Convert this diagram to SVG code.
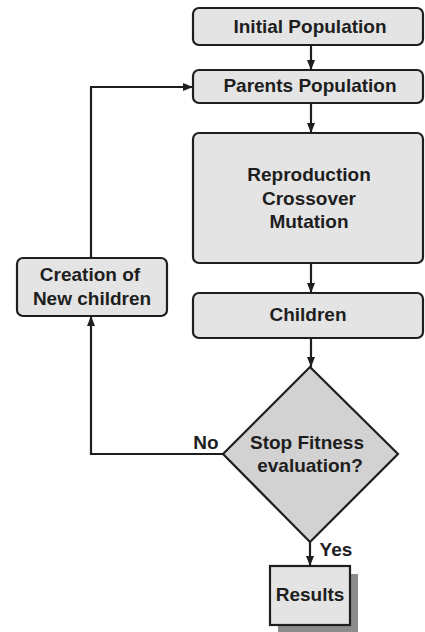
<svg xmlns="http://www.w3.org/2000/svg" width="425" height="632" viewBox="0 0 425 632">
  <style>
    .box { fill: #e4e4e4; stroke: #1e1e1e; stroke-width: 2.2; }
    .dia { fill: #d2d2d2; stroke: #1e1e1e; stroke-width: 2.2; }
    .lbl { font-family: "Liberation Sans", Arial, sans-serif; font-weight: bold; font-size: 19px; fill: #1e1e1e; text-anchor: middle; }
    .edge { fill: none; stroke: #1e1e1e; stroke-width: 2.2; marker-end: url(#arrow); }
  </style>
  <defs>
    <marker id="arrow" viewBox="0 0 10 10" refX="10" refY="5" markerWidth="10" markerHeight="10" markerUnits="userSpaceOnUse" orient="auto">
      <path d="M0,1 L10,5 L0,9 Z" fill="#1e1e1e"/>
    </marker>
  </defs>
  <rect width="425" height="632" fill="#ffffff"/>

  <g id="connectors">
    <line class="edge" x1="311" y1="45" x2="311" y2="70"/>
    <line class="edge" x1="311" y1="103" x2="311" y2="133"/>
    <line class="edge" x1="311" y1="263" x2="311" y2="293"/>
    <line class="edge" x1="311" y1="338" x2="311" y2="367"/>
    <line class="edge" x1="310" y1="542" x2="310" y2="566"/>
    <polyline class="edge" points="223,454 91,454 91,316"/>
    <polyline class="edge" points="91,258 91,87 193,87"/>
  </g>

  <g id="initial">
    <rect class="box" x="193" y="8" width="230" height="37" rx="6"/>
    <text class="lbl" x="310" y="33">Initial Population</text>
  </g>

  <g id="parents">
    <rect class="box" x="193" y="70" width="230" height="33" rx="6"/>
    <text class="lbl" x="310" y="92">Parents Population</text>
  </g>

  <g id="operators">
    <rect class="box" x="193" y="133" width="230" height="130" rx="6"/>
    <text class="lbl" x="309" y="181">Reproduction</text>
    <text class="lbl" x="309" y="205">Crossover</text>
    <text class="lbl" x="309" y="228">Mutation</text>
  </g>

  <g id="children">
    <rect class="box" x="193" y="293" width="230" height="45" rx="6"/>
    <text class="lbl" x="308" y="321">Children</text>
  </g>

  <g id="creation">
    <rect class="box" x="17" y="258" width="150" height="58" rx="6"/>
    <text class="lbl" x="90" y="281">Creation of</text>
    <text class="lbl" x="92" y="305">New children</text>
  </g>

  <g id="decision">
    <polygon class="dia" points="310,367 398,454 310,542 223,454"/>
    <text class="lbl" x="307" y="449">Stop Fitness</text>
    <text class="lbl" x="310" y="472">evaluation?</text>
    <text class="lbl" x="206" y="449">No</text>
    <text class="lbl" x="336" y="556">Yes</text>
  </g>

  <g id="results">
    <rect x="278" y="574" width="80" height="58" fill="#8c8c8c"/>
    <rect x="270" y="566" width="80" height="59" fill="#e4e4e4" stroke="#1e1e1e" stroke-width="2.2"/>
    <text class="lbl" x="310" y="601">Results</text>
  </g>
</svg>
